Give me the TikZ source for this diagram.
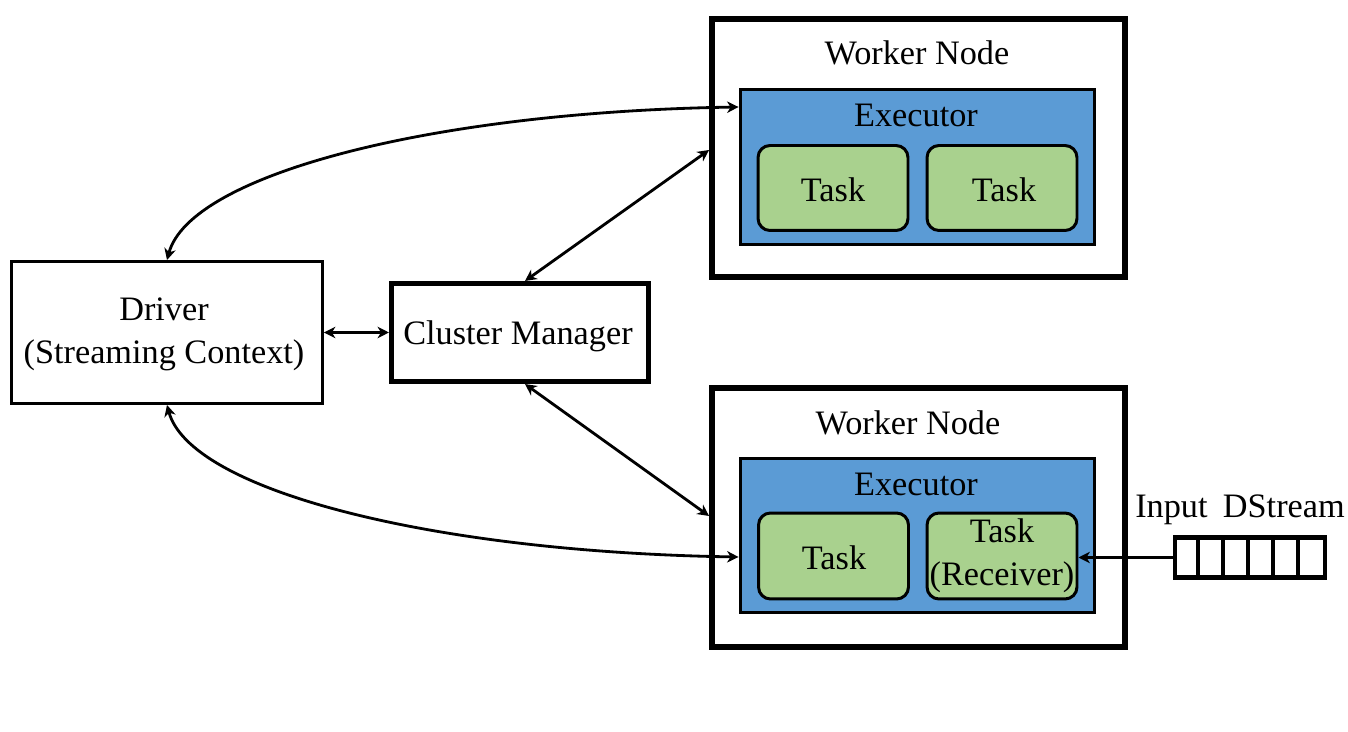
\documentclass[tikz,border=0pt]{standalone}
\usepackage{fontspec}
\setmainfont{Liberation Serif}
\usetikzlibrary{arrows.meta,calc}
\definecolor{execblue}{HTML}{5B9BD5}
\definecolor{taskgreen}{HTML}{A9D18E}
\begin{document}
\begin{tikzpicture}[x=0.02cm, y=-0.02cm,
  every node/.style={font=\fontsize{19.5}{24.5}\selectfont, align=center, inner sep=0pt},
  driverbox/.style={draw, line width=1.7pt, fill=white, minimum width=6.22cm, minimum height=2.84cm},
  cmbox/.style={draw, line width=2.9pt, minimum width=5.14cm, minimum height=1.96cm},
  workerbox/.style={draw, line width=3.4pt, minimum width=8.26cm, minimum height=5.16cm},
  execbox/.style={draw, line width=1.7pt, fill=execblue, minimum width=7.1cm, minimum height=3.12cm},
  taskbox/.style={draw, line width=1.7pt, fill=taskgreen, rounded corners=0.24cm, minimum width=3cm, minimum height=1.7cm},
  link/.style={line width=1.6pt, {Stealth[length=6.5pt,width=6.5pt,inset=2pt]}-{Stealth[length=6.5pt,width=6.5pt,inset=2pt]}},
  feed/.style={line width=1.6pt, -{Stealth[length=6.5pt,width=6.5pt,inset=2pt]}}
]
\useasboundingbox (0,0) rectangle (1348,732);

% driver and cluster manager
\node[driverbox] (driver) at (167,332.5) {};
\node (drivert) at (164,334) {Driver\\(Streaming\ Context)};
\node[cmbox] (cm) at (520,332.5) {};
\node (cmt) at (518,336) {Cluster\ Manager};

% upper worker node
\node[workerbox] (w1) at (918.5,148) {};
\node (w1t) at (917,53) {Worker Node};
\node[execbox] (e1) at (917.5,167) {};
\node (e1t) at (916,115) {Executor};
\node[taskbox] (t11) at (833,188) {};
\node (t11t) at (833,189.5) {Task};
\node[taskbox] (t12) at (1002,188) {};
\node (t12t) at (1004,189.5) {Task};

% lower worker node
\node[workerbox, minimum height=5.18cm] (w2) at (918.5,517.5) {};
\node (w2t) at (908,423) {Worker Node};
\node[execbox, minimum height=3.1cm] (e2) at (917.5,535.5) {};
\node (e2t) at (916,484) {Executor};
\node[taskbox, minimum height=1.72cm] (t21) at (833.5,556) {};
\node (t21t) at (834,557.5) {Task};
\node[taskbox, minimum height=1.72cm] (t22) at (1002,556) {};
\node (t22t) at (1002,556) {Task\\(Receiver)};

% input stream queue
\node (qt) at (1240,510) {Input\hspace{0.45em}DStream};
\node[draw, line width=2.3pt, minimum width=3cm, minimum height=0.8cm] (q) at (1250,557.5) {};
\foreach \i in {1,...,5} {
  \draw[line width=2.3pt] ($(q.north west)+(\i*25,0)$) -- ($(q.south west)+(\i*25,0)$);
}

% connectors
\coordinate (w1in) at (w1.west |- 0,150);
\coordinate (w2in) at (w2.west |- 0,516);
\coordinate (e1in) at (e1.west |- 0,107);
\coordinate (e2in) at (e2.west |- 0,557);
\coordinate (cmn) at ($(cm.north)+(5,0)$);
\coordinate (cms) at ($(cm.south)+(5,0)$);
\draw[link] (driver.east) -- (cm.west);
\draw[link] (cmn) -- (w1in);
\draw[link] (cms) -- (w2in);
\draw[link] (driver.north) .. controls (190,175) and (430,112) .. (e1in);
\draw[link] (driver.south) .. controls (190,490) and (430,552) .. (e2in);
\draw[feed] (q.west) -- (q.west -| t22.east);
\end{tikzpicture}
\end{document}
